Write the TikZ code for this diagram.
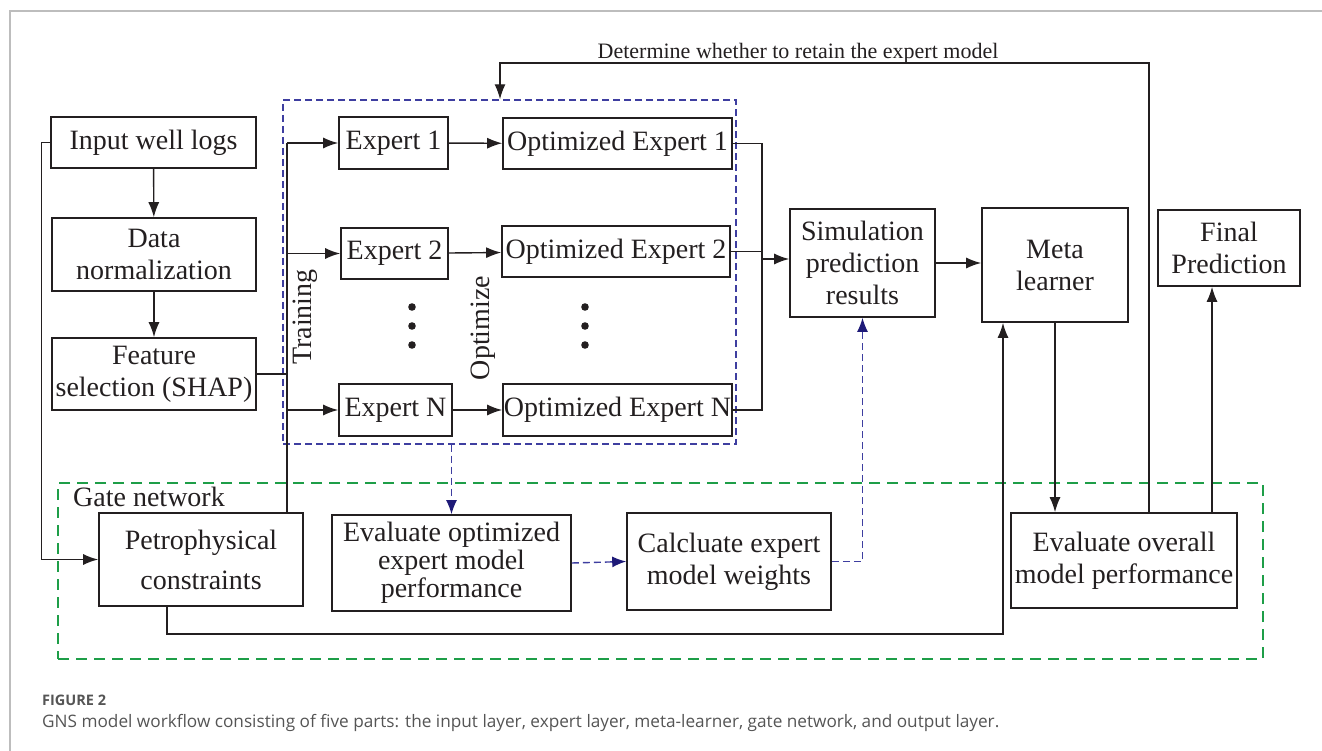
\documentclass[tikz,border=0pt]{standalone}
\usepackage{fontspec}
\setmainfont{Liberation Serif}
\newfontfamily\capfont{Open Sans}
\usetikzlibrary{arrows.meta}

\definecolor{framegray}{HTML}{BDBDBD}
\definecolor{navyline}{HTML}{3E3EA0}
\definecolor{navytip}{HTML}{1E1A78}
\definecolor{gategreen}{HTML}{1E9E48}
\definecolor{capgray}{HTML}{555555}
\definecolor{inkblack}{HTML}{231F20}

\tikzset{
  box/.style={draw=inkblack, line width=1.6pt, align=center, inner sep=0pt,
    text=inkblack, font=\fontsize{28}{32}\selectfont},
  lbl/.style={inner sep=0pt, text=inkblack, font=\fontsize{28}{32}\selectfont},
  conn/.style={draw=inkblack, line width=1.4pt},
  arr/.style={conn, -{Latex[length=15pt,width=11pt]}},
  bluearr/.style={navyline, line width=1.4pt, dash pattern=on 7pt off 4pt,
    -{Latex[length=14pt,width=11pt,color=navytip]}},
  expgroup/.style={draw=navyline, line width=1.4pt, dash pattern=on 7pt off 4pt, inner sep=0pt},
  gategroup/.style={draw=gategreen, line width=1.7pt, dash pattern=on 11pt off 7pt, inner sep=0pt}
}

\begin{document}
\begin{tikzpicture}[x=1pt, y=-1pt]
  \useasboundingbox (0,0) rectangle (1322,751);

  % frame
  \draw[framegray, line width=1.2pt] (1322,11) -- (10,11) -- (10,751);

  % groups
  \node[expgroup, minimum width=453, minimum height=344] (experts) at (509.5,272) {};
  \node[gategroup, minimum width=1205, minimum height=176] (gate) at (660.5,571) {};
  \node[lbl, anchor=west] (gatelbl) at (73,497) {Gate network};

  % input layer
  \node[box, minimum width=205, minimum height=51] (inp) at (153.5,142.5) {Input well logs};
  \node[box, minimum width=204, minimum height=73] (norm) at (154,254.5) {Data\\normalization};
  \node[box, minimum width=204, minimum height=72] (feat) at (154,374) {Feature\\selection (SHAP)};

  % expert layer
  \node[box, minimum width=109, minimum height=52] (ex1) at (393.5,143) {Expert 1};
  \node[box, minimum width=107, minimum height=51] (ex2) at (394.5,253.5) {Expert 2};
  \node[box, minimum width=113, minimum height=52] (exN) at (395.5,410) {Expert N};
  \node[box, minimum width=229, minimum height=51] (opt1) at (617.5,143.5) {Optimized Expert 1};
  \node[box, minimum width=228, minimum height=51] (opt2) at (616,251.5) {Optimized Expert 2};
  \node[box, minimum width=229, minimum height=52] (optN) at (617.5,410) {Optimized Expert N};
  \node[lbl, rotate=90] (trainlbl) at (305,317) {Training};
  \node[lbl, rotate=90] (optlbl) at (483,328) {Optimize};
  \foreach \dx in {412,585}
    \foreach \dy in {307,326,345}
      \fill[inkblack] (\dx,\dy) circle (3.8);

  % meta-learner and output
  \node[box, minimum width=145, minimum height=108] (sim) at (862.5,263) {Simulation\\prediction\\results};
  \node[box, minimum width=146, minimum height=114] (meta) at (1055,265) {Meta\\learner};
  \node[box, minimum width=142, minimum height=76] (final) at (1229,248) {Final\\Prediction};

  % gate network
  \node[box, minimum width=204, minimum height=93] (petro) at (201,559.5) {Petrophysical\\[8pt]constraints};
  \node[box, minimum width=239, minimum height=96] (evopt) at (451.5,563) {Evaluate optimized\\[-4pt]expert model\\[-4pt]performance};
  \node[box, minimum width=204, minimum height=97] (calc) at (729,561.5) {Calcluate expert\\model weights};
  \node[box, minimum width=226, minimum height=95] (evall) at (1124,560.5) {Evaluate overall\\model performance};

  % helper points
  \coordinate (trk) at (287,145);
  \coordinate (bus) at (762,143);
  \coordinate (fb) at (1149,63);
  \coordinate (fbin) at (500,63);
  \coordinate (upr) at (1212,0);
  \coordinate (gl) at (167,634);
  \coordinate (gr) at (1003,634);

  % input connectors
  \draw[arr] (inp) -- (norm);
  \draw[arr] (norm) -- (feat);
  \draw[arr] (inp.west) -- ++(-9,0) |- (petro.west);
  \draw[conn] (feat.east) -- (feat.east -| trk);
  \draw[conn] (petro.north -| trk) -- (ex1.west -| trk);
  \draw[arr] (ex1.west -| trk) -- (ex1.west);
  \draw[arr] (ex2.west -| trk) -- (ex2.west);
  \draw[arr] (exN.west -| trk) -- (exN.west);

  % expert connectors
  \draw[arr] (ex1) -- (opt1);
  \draw[arr] (ex2) -- (opt2);
  \draw[arr] (exN) -- (optN);
  \draw[conn] (opt1.east) -- (opt1.east -| bus) -- (optN.east -| bus) -- (optN.east);
  \draw[conn] (opt2.east) -- (opt2.east -| bus);
  \draw[arr] ([yshift=4]sim.west -| bus) -- ([yshift=4]sim.west);
  \draw[arr] (sim.east) -- (sim.east -| meta.west);

  % feedback and output
  \draw[arr] (evall.north -| fb) -- (fb) -- (fbin) -- (fbin |- experts.north);
  \node[inner sep=0pt, anchor=base, text=inkblack, font=\fontsize{22}{25}\selectfont] (fblbl)
    at (798,59) {Determine whether to retain the expert model};
  \draw[arr] (meta.south) -- (meta.south |- evall.north);
  \draw[arr] (evall.north -| upr) -- (final.south -| upr);
  \draw[arr] (petro.south -| gl) -- (gl) -- (gr) -- (meta.south -| gr);

  % weights
  \draw[bluearr] (evopt.north |- experts.south) -- (evopt.north);
  \draw[bluearr] (evopt.east) -- (calc.west);
  \draw[bluearr] (calc.east) -| (sim.south);

  % caption
  \node[anchor=base west, inner sep=0pt, text=capgray, font=\capfont\bfseries\fontsize{14.5}{17}\selectfont]
    (figno) at (42,705) {FIGURE 2};
  \node[anchor=base west, inner sep=0pt, text=capgray, font=\capfont\fontsize{17.2}{20}\selectfont]
    (caption) at (42,727) {GNS model workflow consisting of five parts: the input layer, expert layer, meta-learner, gate network, and output layer.};
\end{tikzpicture}
\end{document}
